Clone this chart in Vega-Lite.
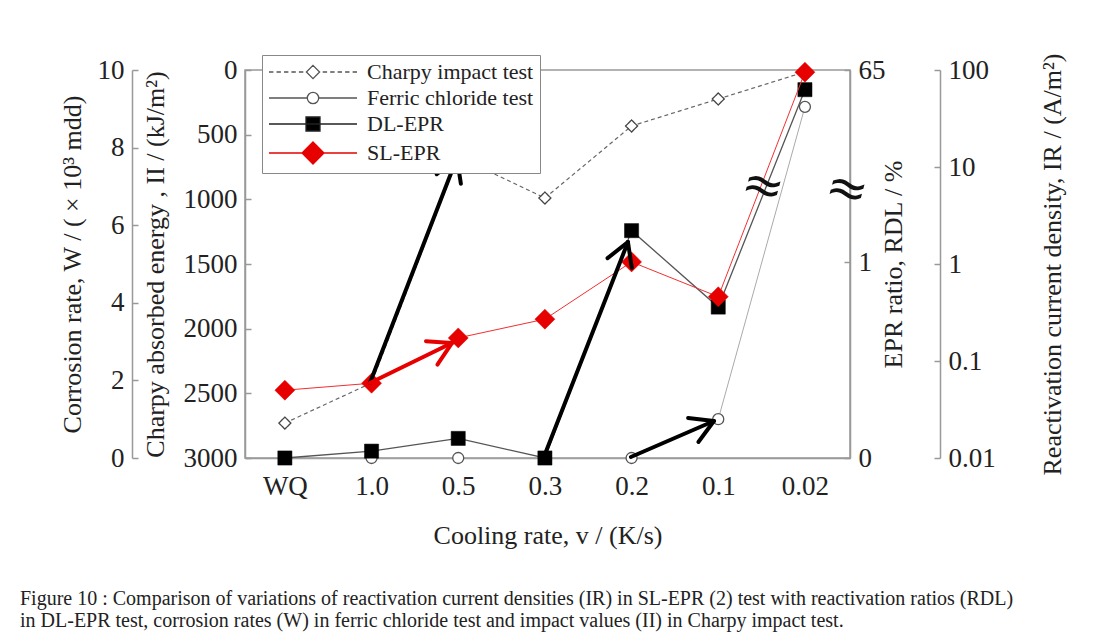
{
  "$schema": "https://vega.github.io/schema/vega-lite/v6.json",
  "autosize": {"type": "none"},
  "padding": {"left": 245, "top": 70, "right": 247, "bottom": 184},
  "width": 605,
  "height": 388,
  "background": "white",
  "title": {
    "text": [
      "Figure 10 : Comparison of variations of reactivation current densities (IR) in SL-EPR (2) test with reactivation ratios (RDL)",
      "in DL-EPR test, corrosion rates (W) in ferric chloride test and impact values (II) in Charpy impact test."
    ],
    "orient": "bottom",
    "anchor": "start",
    "frame": "group",
    "dx": -225,
    "offset": 41,
    "font": "Liberation Serif",
    "fontSize": 20,
    "fontWeight": "normal",
    "color": "#222",
    "lineHeight": 22
  },
  "datasets": {
    "main": [
      {"i": 0, "rate": "WQ", "charpy": 2730, "ferric": 0, "dl": 0, "sl": 0.05},
      {"i": 1, "rate": "1.0", "charpy": 2420, "ferric": 0, "dl": 0.035, "sl": 0.059},
      {"i": 2, "rate": "0.5", "charpy": 670, "ferric": 0, "dl": 0.1, "sl": 0.173},
      {"i": 3, "rate": "0.3", "charpy": 990, "ferric": 0, "dl": 0, "sl": 0.27},
      {"i": 4, "rate": "0.2", "charpy": 433, "ferric": 0, "dl": 1.16, "sl": 1.05},
      {"i": 5, "rate": "0.1", "charpy": 224, "ferric": 1.0, "dl": 0.77, "sl": 0.46},
      {"i": 6, "rate": "0.02", "charpy": 15, "ferric": 9.05, "dl": 54, "sl": 95}
    ],
    "arrowsBlack": [
      {"i": 0.981, "v": 2420, "i2": 1.985, "v2": 680},
      {"i": 1.7515, "v": 806, "i2": 1.985, "v2": 680},
      {"i": 2.0307, "v": 879, "i2": 1.985, "v2": 680},
      {"i": 2.988, "v": 2992, "i2": 3.958, "v2": 1330},
      {"i": 3.723, "v": 1455, "i2": 3.958, "v2": 1330},
      {"i": 4.0025, "v": 1529, "i2": 3.958, "v2": 1330},
      {"i": 3.992, "v": 2992, "i2": 4.95, "v2": 2714},
      {"i": 4.652, "v": 2691, "i2": 4.95, "v2": 2714},
      {"i": 4.771, "v": 2876, "i2": 4.95, "v2": 2714}
    ],
    "arrowsRed": [
      {"i": 0.981, "v": 2420, "i2": 1.927, "v2": 2111},
      {"i": 1.628, "v": 2097, "i2": 1.927, "v2": 2111},
      {"i": 1.76, "v": 2278, "i2": 1.927, "v2": 2111}
    ],
    "breaks": [
      {"i": 5.515, "v": 905},
      {"i": 6.484, "v": 928}
    ]
  },
  "encoding": {
    "x": {
      "field": "i",
      "type": "quantitative",
      "scale": {"domain": [-0.46, 6.52], "nice": false, "zero": false},
      "axis": {
        "values": [0, 1, 2, 3, 4, 5, 6],
        "labelExpr": "['WQ','1.0','0.5','0.3','0.2','0.1','0.02'][datum.value]",
        "ticks": false,
        "labelPadding": 15,
        "title": "Cooling rate, v / (K/s)",
        "titlePadding": 23
      }
    }
  },
  "layer": [
    {
      "data": {"name": "main"},
      "mark": {
        "type": "line",
        "color": "#666",
        "strokeWidth": 1.2,
        "strokeDash": [4, 3],
        "point": {"shape": "diamond", "filled": true, "fill": "white", "stroke": "#444", "strokeWidth": 1.3, "size": 144, "strokeDash": [1, 0]}
      },
      "encoding": {
        "y": {
          "field": "charpy",
          "type": "quantitative",
          "scale": {"domain": [0, 3000], "reverse": true, "nice": false, "zero": false},
          "axis": {
            "orient": "left",
            "values": [0, 500, 1000, 1500, 2000, 2500, 3000],
            "format": "d",
            "tickSize": -6,
            "labelPadding": 14,
            "title": "Charpy absorbed energy , II / (kJ/m²)",
            "titlePadding": 15
          }
        },
        "opacity": {
          "datum": "Charpy impact test",
          "scale": {"domain": ["Charpy impact test", "Ferric chloride test", "DL-EPR", "SL-EPR"], "range": [1, 1, 1, 1]},
          "legend": {
            "title": null,
            "orient": "none",
            "legendX": 17,
            "legendY": -15,
            "padding": 6,
            "strokeColor": "#888",
            "fillColor": "white",
            "rowPadding": 4,
            "symbolOffset": 34,
            "labelOffset": 43,
            "labelFont": "Liberation Serif",
            "labelFontSize": 22,
            "labelColor": "#222",
            "labelLimit": 400,
            "symbolSize": 400,
            "encoding": {
              "symbols": {
                "shape": {"value": {"expr": "datum.value === 'Charpy impact test' ? 'M-4.4,0L-3.96,0M-3.65,0L-3.21,0M-2.9,0L-2.46,0M-2.16,0L-1.72,0M-1.41,0L-0.97,0M0.97,0L1.41,0M1.72,0L2.16,0M2.46,0L2.9,0M3.21,0L3.65,0M3.96,0L4.4,0M0,-0.66L0.66,0L0,0.66L-0.66,0Z' : datum.value === 'Ferric chloride test' ? 'M-4.4,0L-0.57,0M0.57,0L4.4,0M-0.57,0A0.57,0.57,0,1,0,0.57,0A0.57,0.57,0,1,0,-0.57,0Z' : datum.value === 'DL-EPR' ? 'M-4.4,0L4.4,0M-0.7,-0.7L0.7,-0.7L0.7,0.7L-0.7,0.7Z' : 'M-4.4,0L4.4,0M0,-1.1L1.1,0L0,1.1L-1.1,0Z'"}},
                "fill": {"value": {"expr": "datum.value === 'DL-EPR' ? 'black' : datum.value === 'SL-EPR' ? '#e60000' : 'white'"}},
                "stroke": {"value": {"expr": "datum.value === 'DL-EPR' ? '#222' : datum.value === 'SL-EPR' ? '#e60000' : '#555'"}},
                "strokeWidth": {"value": 1.3},
                "opacity": {"value": 1}
              }
            }
          }
        }
      }
    },
    {
      "data": {"name": "main"},
      "mark": {
        "type": "line",
        "color": "#aaa",
        "strokeWidth": 1,
        "point": {"shape": "circle", "filled": true, "fill": "white", "stroke": "#555", "strokeWidth": 1.3, "size": 121}
      },
      "encoding": {
        "y": {
          "field": "ferric",
          "type": "quantitative",
          "scale": {"domain": [0, 10], "nice": false, "zero": false},
          "axis": {
            "orient": "left",
            "offset": 113,
            "values": [0, 2, 4, 6, 8, 10],
            "tickSize": -6,
            "labelPadding": 14,
            "title": "Corrosion rate, W / ( × 10³ mdd)",
            "titlePadding": 12
          }
        },
        "opacity": {"datum": "Ferric chloride test"}
      }
    },
    {
      "data": {"name": "main"},
      "mark": {
        "type": "line",
        "color": "#555",
        "strokeWidth": 1.3,
        "point": {"shape": "square", "filled": true, "fill": "black", "stroke": "black", "strokeWidth": 0.5, "size": 200}
      },
      "encoding": {
        "y": {
          "field": "dl",
          "type": "quantitative",
          "scale": {"type": "linear", "domain": [0, 1.4, 65], "range": [388, 113.6, 0], "nice": false, "zero": false},
          "axis": {
            "orient": "right",
            "values": [0, 1, 65],
            "tickSize": -6,
            "labelPadding": 14,
            "title": "EPR ratio, RDL / %",
            "titleAngle": 270,
            "titleBaseline": "top",
            "titlePadding": -5
          }
        },
        "opacity": {"datum": "DL-EPR"}
      }
    },
    {
      "data": {"name": "main"},
      "mark": {
        "type": "line",
        "color": "#f03030",
        "strokeWidth": 1,
        "point": {"shape": "diamond", "filled": true, "fill": "#e60000", "stroke": "#e60000", "strokeWidth": 0.5, "size": 400}
      },
      "encoding": {
        "y": {
          "field": "sl",
          "type": "quantitative",
          "scale": {"type": "log", "domain": [0.01, 100], "nice": false},
          "axis": {
            "orient": "right",
            "offset": 90,
            "values": [0.01, 0.1, 1, 10, 100],
            "format": "~g",
            "tickSize": -6,
            "labelPadding": 14,
            "title": "Reactivation current density, IR / (A/m²)",
            "titleAngle": 270,
            "titleBaseline": "top",
            "titlePadding": 44
          }
        },
        "opacity": {"datum": "SL-EPR"}
      }
    },
    {
      "data": {"name": "arrowsBlack"},
      "mark": {"type": "rule", "color": "black", "strokeWidth": 4, "strokeCap": "round"},
      "encoding": {
        "x2": {"field": "i2"},
        "y": {"field": "v", "type": "quantitative", "scale": {"domain": [0, 3000], "reverse": true, "nice": false, "zero": false}, "axis": null},
        "y2": {"field": "v2"}
      }
    },
    {
      "data": {"name": "arrowsRed"},
      "mark": {"type": "rule", "color": "#e60000", "strokeWidth": 4, "strokeCap": "round"},
      "encoding": {
        "x2": {"field": "i2"},
        "y": {"field": "v", "type": "quantitative", "scale": {"domain": [0, 3000], "reverse": true, "nice": false, "zero": false}, "axis": null},
        "y2": {"field": "v2"}
      }
    },
    {
      "data": {"name": "breaks"},
      "mark": {"type": "text", "text": "≈", "font": "DejaVu Sans", "fontSize": 50, "angle": 15, "color": "#111", "baseline": "middle", "align": "center"},
      "encoding": {
        "y": {"field": "v", "type": "quantitative", "scale": {"domain": [0, 3000], "reverse": true, "nice": false, "zero": false}, "axis": null}
      }
    }
  ],
  "resolve": {"scale": {"y": "independent"}},
  "config": {
    "view": {"stroke": "#999", "strokeWidth": 1.5},
    "axis": {
      "grid": false,
      "labelFont": "Liberation Serif",
      "labelFontSize": 27,
      "labelColor": "#222",
      "labelFlush": false,
      "labelOverlap": false,
      "titleFont": "Liberation Serif",
      "titleFontSize": 26,
      "titleFontWeight": "normal",
      "titleColor": "#222",
      "domainColor": "#999",
      "domainWidth": 1.5,
      "tickColor": "#999",
      "tickWidth": 1.5
    }
  }
}
